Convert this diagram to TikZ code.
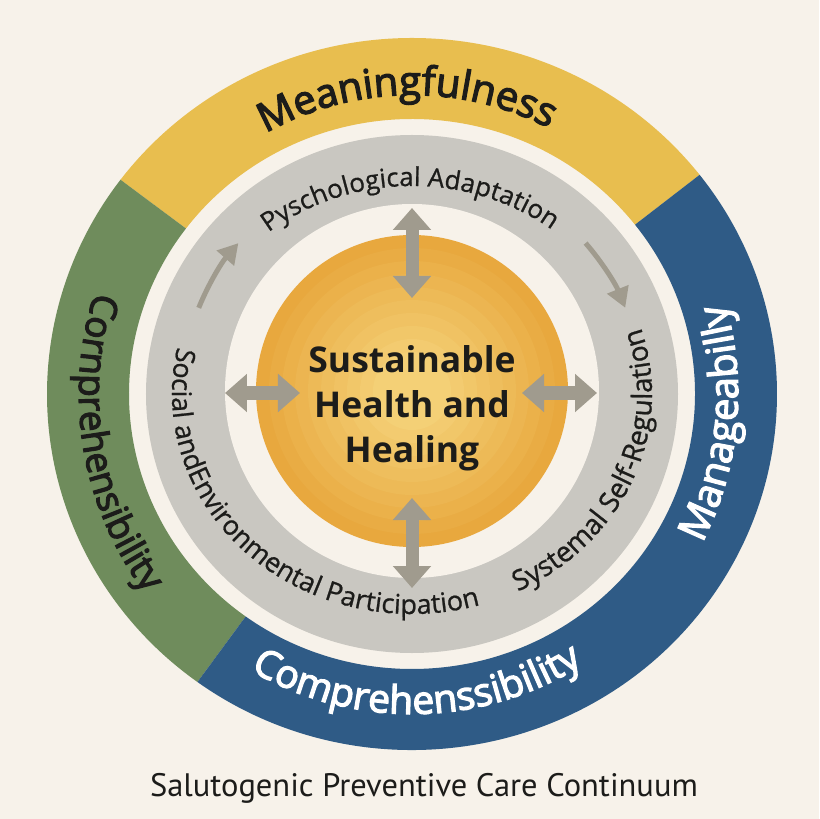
\documentclass[tikz,border=0pt]{standalone}
\usepackage{fontspec}
\setmainfont{Open Sans}
\newfontfamily\ringfont{Open Sans}
\newfontfamily\ringmed[FakeBold=3.2]{Open Sans}
\newfontfamily\ringin[FakeBold=0.8]{Open Sans}
\newfontfamily\ptfont{PT Sans}
\usetikzlibrary{decorations.text,arrows.meta}
\definecolor{bg}{HTML}{F7F2EA}
\definecolor{ylw}{HTML}{E8BE4F}
\definecolor{grn}{HTML}{6F8C5C}
\definecolor{blu}{HTML}{2F5B86}
\definecolor{gry}{HTML}{C9C7C1}
\definecolor{arrowgray}{HTML}{A09B8E}
\definecolor{sunO}{HTML}{E8A83E}
\definecolor{sunC}{HTML}{F5D47C}
\definecolor{txtdark}{HTML}{1C1C1A}
\tikzset{
  dblarrow/.style={draw=arrowgray, line width=13pt,
    {Triangle[width=37pt,length=22pt]}-{Triangle[width=37pt,length=22pt]}},
  curvarrow/.style={draw=arrowgray, line width=5pt,
    -{Triangle[width=22pt,length=20pt]}},
  centertext/.style={align=center, text=txtdark,
    font=\ringfont\bfseries\fontsize{35.5}{45}\selectfont},
  titletext/.style={text=txtdark, font=\ptfont\fontsize{32.5}{36}\selectfont}
}
\begin{document}
\begin{tikzpicture}[x=1pt,y=1pt]
\useasboundingbox (-412,-425) rectangle (407,394);
\fill[bg] (-412,-425) rectangle (407,394);
% outer segments
\fill[ylw] (38:365 and 356) arc[start angle=38, end angle=143, x radius=365, y radius=356]
  -- (143:283 and 275) arc[start angle=143, end angle=38, x radius=283, y radius=275] -- cycle;
\fill[grn] (143:365 and 356) arc[start angle=143, end angle=234, x radius=365, y radius=356]
  -- (234:283 and 275) arc[start angle=234, end angle=143, x radius=283, y radius=275] -- cycle;
\fill[blu] (234:365 and 356) arc[start angle=234, end angle=398, x radius=365, y radius=356]
  -- (398:283 and 275) arc[start angle=398, end angle=234, x radius=283, y radius=275] -- cycle;
% gray ring
\fill[gry] (0,0) ellipse [x radius=266, y radius=259];
\fill[bg] (0,3) circle (187);
% sun
\foreach \i in {0,...,9}{
  \pgfmathsetmacro{\rr}{156-\i*13}
  \pgfmathsetmacro{\pc}{100-\i*10}
  \fill[sunO!\pc!sunC] (0,3) circle (\rr);
}
% outer texts
\path[decorate, decoration={text along path, text align=center, text color=txtdark,
  text={|\ringmed\fontsize{40}{40}\selectfont|Meaningfulness}}]
  (146:299) arc[start angle=146, end angle=36, radius=299];
\path[decorate, decoration={text along path, text align=center, text color=txtdark,
  text={|\ringmed\fontsize{37}{37}\selectfont|Cornprehensibility}}]
  (135:333) arc[start angle=135, end angle=244, radius=333];
\path[decorate, decoration={text along path, text align=center, text color=white,
  text={|\ringmed\fontsize{39}{39}\selectfont|Comprehenssibility}}]
  (216:320) arc[start angle=216, end angle=326, radius=320];
\path[decorate, decoration={text along path, text align=center, text color=white,
  text={|\ringmed\fontsize{40}{40}\selectfont|Manageabilly}}]
  (-60:326) arc[start angle=-60, end angle=49, radius=326];
% inner texts
\path[decorate, decoration={text along path, text align=center, text color=txtdark,
  text={|\ringin\fontsize{26}{26}\selectfont|Pyschological Adaptation}}]
  (155.6:228 and 208) arc[start angle=155.6, end angle=25.6, x radius=228, y radius=208];
\path[decorate, decoration={text along path, text align=center, text color=txtdark,
  text={|\ringin\fontsize{27}{27}\selectfont|Social andEnvironmental Participation}}]
  (144:240 and 220) arc[start angle=144, end angle=309, x radius=240, y radius=220];
\path[decorate, decoration={text along path, text align=center, text color=txtdark,
  text={|\ringin\fontsize{28}{28}\selectfont|Systemal Self-Regulation}}]
  (-85:240 and 220) arc[start angle=-85, end angle=40, x radius=240, y radius=220];
% curved arrows
\coordinate (lcA) at (158:230);
\coordinate (rcA) at (41:230);
\draw[curvarrow] (lcA) arc[start angle=158, end angle=139, radius=230];
\draw[curvarrow] (rcA) arc[start angle=41, end angle=22, radius=230];
% centre
\node[centertext] (core) at (0,-14) {Sustainable\\Health and\\Healing};
\coordinate (tIn) at (0,96);   \coordinate (tOut) at (0,186);
\coordinate (bIn) at (0,-104); \coordinate (bOut) at (0,-194);
\coordinate (lIn) at (-112,1); \coordinate (lOut) at (-187,1);
\coordinate (rIn) at (110,1);  \coordinate (rOut) at (185,1);
\draw[dblarrow] (tIn) -- (tOut);
\draw[dblarrow] (bIn) -- (bOut);
\draw[dblarrow] (lIn) -- (lOut);
\draw[dblarrow] (rIn) -- (rOut);
% title
\node[titletext] (ttl) at (12,-394) {Salutogenic Preventive Care Continuum};
\end{tikzpicture}
\end{document}
